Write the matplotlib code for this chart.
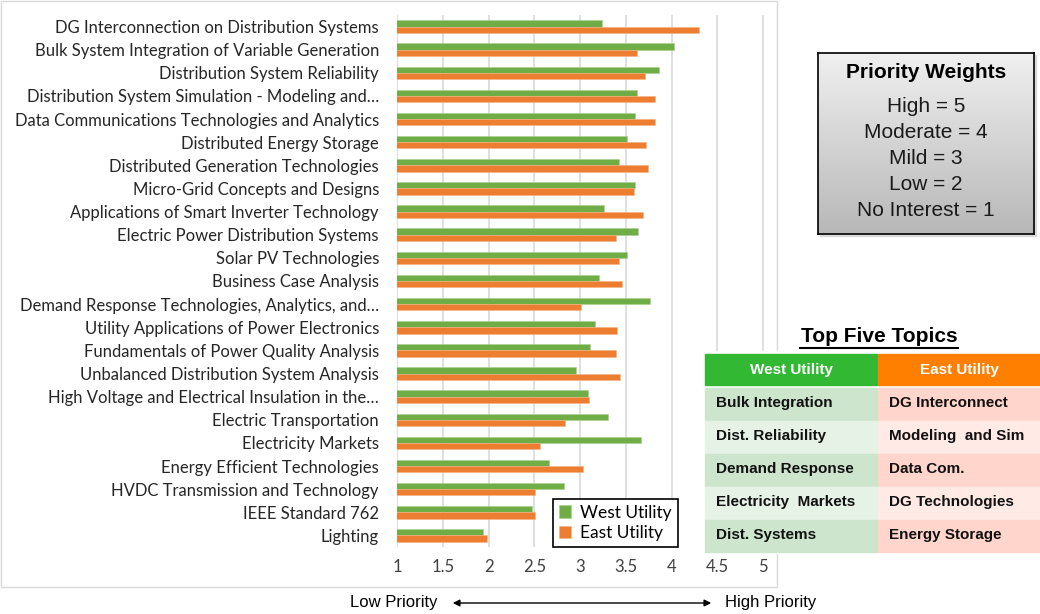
import numpy as np
import matplotlib
matplotlib.use("Agg")
import matplotlib.pyplot as plt
from matplotlib.patches import Rectangle

# survey topics, top to bottom
topics = [
    "DG Interconnection on Distribution Systems",
    "Bulk System Integration of Variable Generation",
    "Distribution System Reliability",
    "Distribution System Simulation - Modeling and\u2026",
    "Data Communications Technologies and Analytics",
    "Distributed Energy Storage",
    "Distributed Generation Technologies",
    "Micro-Grid Concepts and Designs",
    "Applications of Smart Inverter Technology",
    "Electric Power Distribution Systems",
    "Solar PV Technologies",
    "Business Case Analysis",
    "Demand Response Technologies, Analytics, and\u2026",
    "Utility Applications of Power Electronics",
    "Fundamentals of Power Quality Analysis",
    "Unbalanced Distribution System Analysis",
    "High Voltage and Electrical Insulation in the\u2026",
    "Electric Transportation",
    "Electricity Markets",
    "Energy Efficient Technologies",
    "HVDC Transmission and Technology",
    "IEEE Standard 762",
    "Lighting",
]
west = [3.24, 4.03, 3.86, 3.62, 3.60, 3.51, 3.42, 3.60, 3.26, 3.63, 3.51, 3.21,
        3.76, 3.16, 3.11, 2.96, 3.09, 3.31, 3.66, 2.66, 2.82, 2.47, 1.94]
east = [4.30, 3.62, 3.71, 3.82, 3.82, 3.72, 3.74, 3.59, 3.69, 3.39, 3.42, 3.46,
        3.01, 3.40, 3.39, 3.44, 3.10, 2.83, 2.56, 3.03, 2.51, 2.51, 1.98]
xticks = [1, 1.5, 2, 2.5, 3, 3.5, 4, 4.5, 5]

weights = ["High = 5", "Moderate = 4", "Mild = 3", "Low = 2", "No Interest = 1"]
top_west = ["Bulk Integration", "Dist. Reliability", "Demand Response",
            "Electricity  Markets", "Dist. Systems"]
top_east = ["DG Interconnect", "Modeling  and Sim", "Data Com.",
            "DG Technologies", "Energy Storage"]

W, H = 1040, 614
fig = plt.figure(figsize=(W / 100, H / 100), dpi=100)

def fx(px):
    return px / W

def fy(py):
    return 1 - py / H

GREEN = "#70AD47"
ORANGE = "#ED7D31"

# chart area border
fig.patches.append(Rectangle((fx(1), fy(587)), fx(776), fy(1) - fy(587),
                             transform=fig.transFigure, fill=False,
                             edgecolor="#D9D9D9", lw=1, zorder=0))

ax = fig.add_axes([fx(397), fy(547), fx(765 - 397), fy(15) - fy(547)])
y = np.arange(len(topics))
h = 0.27
ax.barh(y - h / 2, west, height=h, left=0, color=GREEN, label="West Utility",
        edgecolor="#A9D18E", linewidth=0.4, zorder=3)
ax.barh(y + h / 2, east, height=h, left=0, color=ORANGE, label="East Utility",
        edgecolor="#F4B183", linewidth=0.4, zorder=3)
ax.set_xlim(1, 5.02)
ax.set_ylim(len(topics) - 0.5, -0.5)
ax.set_xticks(xticks)
ax.set_xticklabels([f"{t:g}" for t in xticks], fontsize=12, family="Lato", color="#404040")
ax.set_yticks(y)
ax.set_yticklabels(topics, fontsize=12, family="Lato", color="#262626")
ax.tick_params(length=0, pad=13)
ax.tick_params(axis="x", pad=9)
ax.grid(axis="x", color="#D9D9D9", lw=1.2, zorder=0)
for s in ax.spines.values():
    s.set_visible(False)

leg = ax.legend(loc="lower left", bbox_to_anchor=(fx(553), fy(547)),
                bbox_transform=fig.transFigure, frameon=True, fancybox=False,
                edgecolor="black", framealpha=1, prop={"family": "Lato", "size": 12.5},
                handlelength=0.7, handleheight=0.7, handletextpad=0.5,
                borderpad=0.35, labelspacing=0.25, borderaxespad=0)
leg.get_frame().set_linewidth(1.2)

# Priority Weights box with gradient fill and a soft shadow
fig.patches.append(Rectangle((fx(820), fy(236)), fx(1034 - 818), fy(53) - fy(234),
                             transform=fig.transFigure, color="#DADADA", zorder=0))
bx = fig.add_axes([fx(818), fy(234), fx(1034 - 818), fy(53) - fy(234)])
bx.set_zorder(3)
grad = np.linspace(0.94, 0.72, 100).reshape(-1, 1)
bx.imshow(np.dstack([grad, grad, grad]), aspect="auto", extent=[0, 1, 0, 1])
bx.set_xticks([])
bx.set_yticks([])
for s in bx.spines.values():
    s.set_color("black")
    s.set_linewidth(1.2)
bx.text(0.5, 1 - 19 / 181, "Priority Weights", ha="center", va="center",
        transform=bx.transAxes, fontsize=15, fontweight="bold", family="Liberation Sans")
for i, w in enumerate(weights):
    bx.text(0.5, 1 - (54 + 25.8 * i) / 181, w, ha="center", va="center",
            transform=bx.transAxes, fontsize=15, family="Liberation Sans", color="#1a1a1a")

# Top five topics table
fig.patches.append(Rectangle((fx(703), fy(553)), fx(337), fy(351) - fy(553),
                             transform=fig.transFigure, color="white", zorder=5))
fig.text(fx(879), fy(337), "Top Five Topics", ha="center", va="center",
         fontsize=15, fontweight="bold", family="Liberation Sans", zorder=6)
fig.add_artist(plt.Line2D([fx(800), fx(958)], [fy(348), fy(348)], color="black", lw=1.5, zorder=6))

col_x = [705, 878]
col_w = [172, 162]
heads = ["West Utility", "East Utility"]
head_c = ["#33B833", "#FF8000"]
for j in range(2):
    fig.patches.append(Rectangle((fx(col_x[j]), fy(385)), fx(col_w[j]), fy(354) - fy(385),
                                 transform=fig.transFigure, color=head_c[j], zorder=6))
    fig.text(fx(col_x[j] + col_w[j] / 2), fy(370), heads[j], ha="center", va="center",
             fontsize=11, fontweight="bold", color="white", family="Liberation Sans", zorder=7)
row_c = [["#CCE5CC", "#E6F2E6"], ["#FFD5CC", "#FFEAE6"]]
cols = [top_west, top_east]
for i in range(5):
    top = 388 + 33 * i
    for j in range(2):
        fig.patches.append(Rectangle((fx(col_x[j]), fy(top + 32)), fx(col_w[j]), fy(top) - fy(top + 32),
                                     transform=fig.transFigure, color=row_c[j][i % 2], zorder=6))
        fig.text(fx(col_x[j] + 11), fy(top + 15), cols[j][i], ha="left", va="center",
                 fontsize=11, fontweight="bold", color="#111111", family="Liberation Sans", zorder=7)

# bottom priority arrow
fig.text(fx(437), fy(603), "Low Priority", ha="right", va="center", fontsize=12,
         family="Liberation Sans")
fig.text(fx(725), fy(603), "High Priority", ha="left", va="center", fontsize=12,
         family="Liberation Sans")
fig.add_artist(matplotlib.patches.FancyArrowPatch((fx(450), fy(603)), (fx(714), fy(603)),
               transform=fig.transFigure, arrowstyle="<|-|>", mutation_scale=10,
               color="black", lw=1))

fig.savefig("out.png", dpi=100)
